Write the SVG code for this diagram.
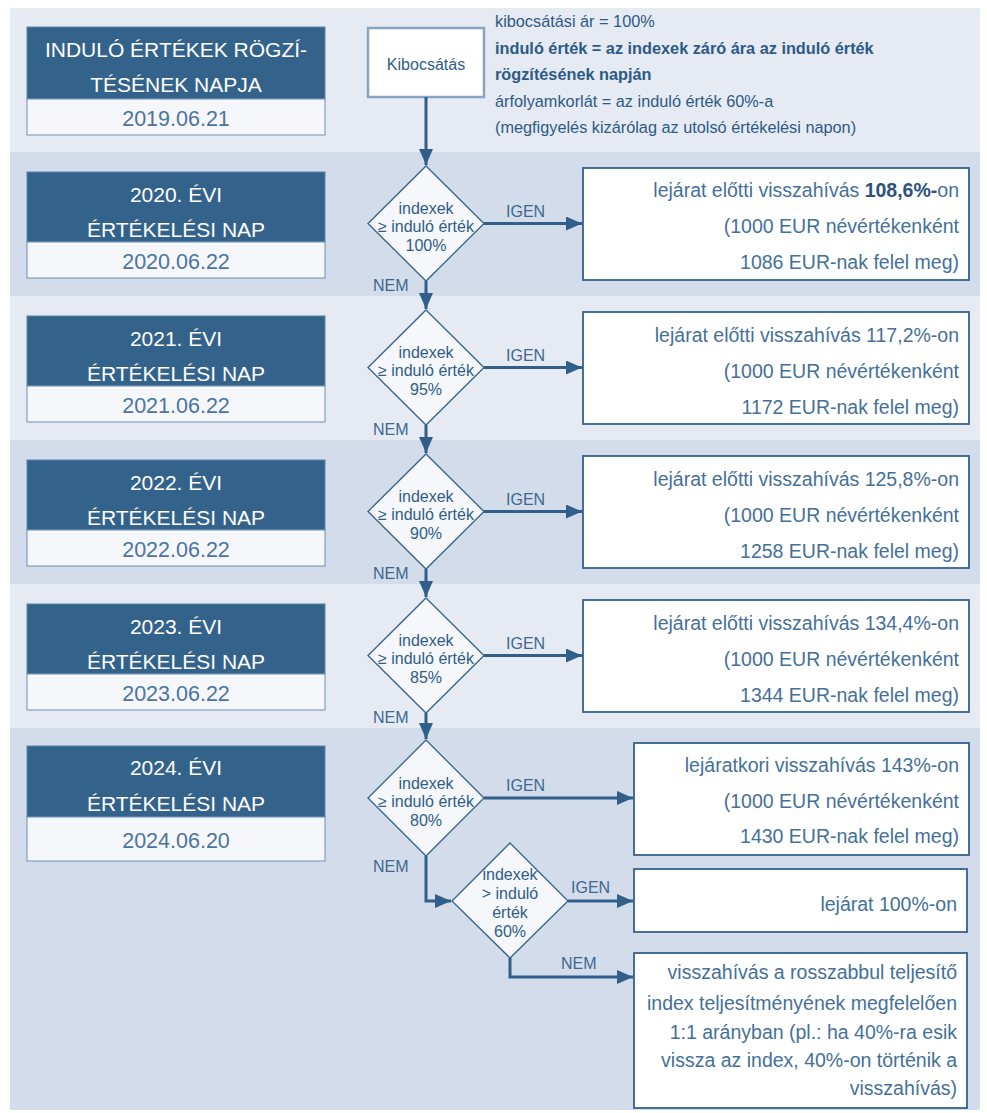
<svg xmlns="http://www.w3.org/2000/svg" width="987" height="1113" viewBox="0 0 987 1113">
<defs>
<marker id="ah" viewBox="0 0 16 14" refX="16" refY="7" markerWidth="16" markerHeight="14" markerUnits="userSpaceOnUse" orient="auto">
<path d="M0,0 L16,7 L0,14 Z" fill="#2f5f8a"/>
</marker>
<style>
text{font-family:"Liberation Sans",Arial,sans-serif;}
.bl{fill:#e5eaf3;}
.bd{fill:#d3dcea;}
.hd{fill:#33638b;stroke:#5f84aa;stroke-width:1;}
.hl{fill:#f5f7fa;stroke:#6f8fb3;stroke-width:1;}
.ht{fill:#ffffff;font-size:21px;text-anchor:middle;}
.dt{fill:#4b74a0;font-size:21.5px;text-anchor:middle;}
.dm{fill:#f5f7fa;stroke:#33638b;stroke-width:1.3;}
.dmt{fill:#2f5d88;font-size:16px;text-anchor:middle;}
.rb{fill:#ffffff;stroke:#33638b;stroke-width:1.8;}
.rt{fill:#44709a;font-size:19.5px;text-anchor:end;}
.lb{fill:#3d6890;font-size:16px;}
.nt{fill:#2d5a86;font-size:16.3px;}
.cn{fill:none;stroke:#2f5f8a;stroke-width:3;}
</style>
</defs>
<g id="bands">
<rect class="bl" x="10" y="8" width="970" height="144"/>
<rect class="bd" x="10" y="152" width="970" height="144"/>
<rect class="bl" x="10" y="296" width="970" height="144"/>
<rect class="bd" x="10" y="440" width="970" height="144"/>
<rect class="bl" x="10" y="584" width="970" height="144"/>
<rect class="bd" x="10" y="728" width="970" height="382"/>
</g>
<g id="header-2019">
<rect class="hd" x="27" y="27" width="298" height="72"/>
<rect class="hl" x="27" y="99" width="298" height="36"/>
<text class="ht" x="176" y="57" font-size="21.5">INDULÓ ÉRTÉKEK RÖGZÍ-</text>
<text class="ht" x="176" y="92" font-size="21.5">TÉSÉNEK NAPJA</text>
<text class="dt" x="176" y="126">2019.06.21</text>
</g>
<g id="kibocsatas">
<rect x="368" y="28" width="116" height="69" fill="#ffffff" stroke="#8aa3c0" stroke-width="2.5"/>
<text x="426" y="70" fill="#2f5d88" font-size="16" text-anchor="middle">Kibocsátás</text>
</g>
<g id="notes">
<text class="nt" x="495" y="27">kibocsátási ár = 100%</text>
<text class="nt" x="495" y="54" font-weight="bold" fill="#2c527b">induló érték = az indexek záró ára az induló érték</text>
<text class="nt" x="495" y="80" font-weight="bold" fill="#2c527b">rögzítésének napján</text>
<text class="nt" x="495" y="107">árfolyamkorlát = az induló érték 60%-a</text>
<text class="nt" x="495" y="133">(megfigyelés kizárólag az utolsó értékelési napon)</text>
</g>
<g id="header-2020">
<rect class="hd" x="27" y="172" width="298" height="70"/>
<rect class="hl" x="27" y="242" width="298" height="36"/>
<text class="ht" x="176" y="202">2020. ÉVI</text>
<text class="ht" x="176" y="237">ÉRTÉKELÉSI NAP</text>
<text class="dt" x="176" y="269">2020.06.22</text>
</g>
<g id="header-2021">
<rect class="hd" x="27" y="316" width="298" height="70"/>
<rect class="hl" x="27" y="386" width="298" height="36"/>
<text class="ht" x="176" y="346">2021. ÉVI</text>
<text class="ht" x="176" y="381">ÉRTÉKELÉSI NAP</text>
<text class="dt" x="176" y="413">2021.06.22</text>
</g>
<g id="header-2022">
<rect class="hd" x="27" y="460" width="298" height="70"/>
<rect class="hl" x="27" y="530" width="298" height="36"/>
<text class="ht" x="176" y="490">2022. ÉVI</text>
<text class="ht" x="176" y="525">ÉRTÉKELÉSI NAP</text>
<text class="dt" x="176" y="557">2022.06.22</text>
</g>
<g id="header-2023">
<rect class="hd" x="27" y="604" width="298" height="70"/>
<rect class="hl" x="27" y="674" width="298" height="36"/>
<text class="ht" x="176" y="634">2023. ÉVI</text>
<text class="ht" x="176" y="669">ÉRTÉKELÉSI NAP</text>
<text class="dt" x="176" y="701">2023.06.22</text>
</g>
<g id="header-2024">
<rect class="hd" x="27" y="746" width="298" height="71"/>
<rect class="hl" x="27" y="817" width="298" height="44"/>
<text class="ht" x="176" y="775">2024. ÉVI</text>
<text class="ht" x="176" y="811">ÉRTÉKELÉSI NAP</text>
<text class="dt" x="176" y="848">2024.06.20</text>
</g>
<g id="diamond-2020">
<polygon class="dm" points="426,166 484,223.5 426,281 368,223.5"/>
<text class="dmt" x="426" y="214">indexek</text>
<text class="dmt" x="426" y="232">≥ induló érték</text>
<text class="dmt" x="426" y="251">100%</text>
</g>
<g id="diamond-2021">
<polygon class="dm" points="426,310 484,367.5 426,425 368,367.5"/>
<text class="dmt" x="426" y="358">indexek</text>
<text class="dmt" x="426" y="376">≥ induló érték</text>
<text class="dmt" x="426" y="395">95%</text>
</g>
<g id="diamond-2022">
<polygon class="dm" points="426,454 484,511.5 426,569 368,511.5"/>
<text class="dmt" x="426" y="502">indexek</text>
<text class="dmt" x="426" y="520">≥ induló érték</text>
<text class="dmt" x="426" y="539">90%</text>
</g>
<g id="diamond-2023">
<polygon class="dm" points="426,598 484,655.5 426,713 368,655.5"/>
<text class="dmt" x="426" y="646">indexek</text>
<text class="dmt" x="426" y="664">≥ induló érték</text>
<text class="dmt" x="426" y="683">85%</text>
</g>
<g id="diamond-2024">
<polygon class="dm" points="426,740 484,798 426,856 368,798"/>
<text class="dmt" x="426" y="789">indexek</text>
<text class="dmt" x="426" y="807">≥ induló érték</text>
<text class="dmt" x="426" y="826">80%</text>
</g>
<g id="diamond-60">
<polygon class="dm" points="510,843 568,901 510,958 452,901"/>
<text class="dmt" x="510" y="880">indexek</text>
<text class="dmt" x="510" y="899">&gt; induló</text>
<text class="dmt" x="510" y="918">érték</text>
<text class="dmt" x="510" y="937">60%</text>
</g>
<g id="result-2020">
<rect class="rb" x="583" y="168" width="386" height="112"/>
<text class="rt" x="959" y="197">lejárat előtti visszahívás <tspan font-weight="bold" fill="#2c527b">108,6%-</tspan>on</text>
<text class="rt" x="959" y="233">(1000 EUR névértékenként</text>
<text class="rt" x="959" y="269">1086 EUR-nak felel meg)</text>
</g>
<g id="result-2021">
<rect class="rb" x="583" y="312" width="386" height="112"/>
<text class="rt" x="959" y="342">lejárat előtti visszahívás 117,2%-on</text>
<text class="rt" x="959" y="378">(1000 EUR névértékenként</text>
<text class="rt" x="959" y="414">1172 EUR-nak felel meg)</text>
</g>
<g id="result-2022">
<rect class="rb" x="583" y="456" width="386" height="112"/>
<text class="rt" x="959" y="486">lejárat előtti visszahívás 125,8%-on</text>
<text class="rt" x="959" y="522">(1000 EUR névértékenként</text>
<text class="rt" x="959" y="558">1258 EUR-nak felel meg)</text>
</g>
<g id="result-2023">
<rect class="rb" x="583" y="600" width="386" height="112"/>
<text class="rt" x="959" y="630">lejárat előtti visszahívás 134,4%-on</text>
<text class="rt" x="959" y="666">(1000 EUR névértékenként</text>
<text class="rt" x="959" y="702">1344 EUR-nak felel meg)</text>
</g>
<g id="result-2024">
<rect class="rb" x="634" y="743" width="335" height="112"/>
<text class="rt" x="959" y="772">lejáratkori visszahívás 143%-on</text>
<text class="rt" x="959" y="808">(1000 EUR névértékenként</text>
<text class="rt" x="959" y="843">1430 EUR-nak felel meg)</text>
</g>
<g id="result-100">
<rect class="rb" x="634" y="869" width="333" height="63"/>
<text class="rt" x="957" y="911">lejárat 100%-on</text>
</g>
<g id="result-worst">
<rect class="rb" x="634" y="953" width="333" height="155"/>
<text class="rt" x="957" y="979">visszahívás a rosszabbul teljesítő</text>
<text class="rt" x="957" y="1010">index teljesítményének megfelelően</text>
<text class="rt" x="957" y="1039">1:1 arányban (pl.: ha 40%-ra esik</text>
<text class="rt" x="957" y="1067">vissza az index, 40%-on történik a</text>
<text class="rt" x="957" y="1095">visszahívás)</text>
</g>
<g id="connectors">
<path class="cn" d="M426,97 V165" marker-end="url(#ah)"/>
<path class="cn" d="M484,223.5 H582" marker-end="url(#ah)"/>
<path class="cn" d="M426,281 V309" marker-end="url(#ah)"/>
<path class="cn" d="M484,367.5 H582" marker-end="url(#ah)"/>
<path class="cn" d="M426,425 V453" marker-end="url(#ah)"/>
<path class="cn" d="M484,511.5 H582" marker-end="url(#ah)"/>
<path class="cn" d="M426,569 V597" marker-end="url(#ah)"/>
<path class="cn" d="M484,655.5 H582" marker-end="url(#ah)"/>
<path class="cn" d="M426,713 V739" marker-end="url(#ah)"/>
<path class="cn" d="M484,798 H633" marker-end="url(#ah)"/>
<path class="cn" d="M426,856 V901 H451" marker-end="url(#ah)"/>
<path class="cn" d="M568,901 H633" marker-end="url(#ah)"/>
<path class="cn" d="M510,958 V977 H633" marker-end="url(#ah)"/>
<text class="lb" x="506" y="217">IGEN</text>
<text class="lb" x="373" y="291">NEM</text>
<text class="lb" x="506" y="361">IGEN</text>
<text class="lb" x="373" y="435">NEM</text>
<text class="lb" x="506" y="505">IGEN</text>
<text class="lb" x="373" y="579">NEM</text>
<text class="lb" x="506" y="649">IGEN</text>
<text class="lb" x="373" y="723">NEM</text>
<text class="lb" x="506" y="791">IGEN</text>
<text class="lb" x="373" y="872">NEM</text>
<text class="lb" x="571" y="893">IGEN</text>
<text class="lb" x="561" y="969">NEM</text>
</g>
</svg>
